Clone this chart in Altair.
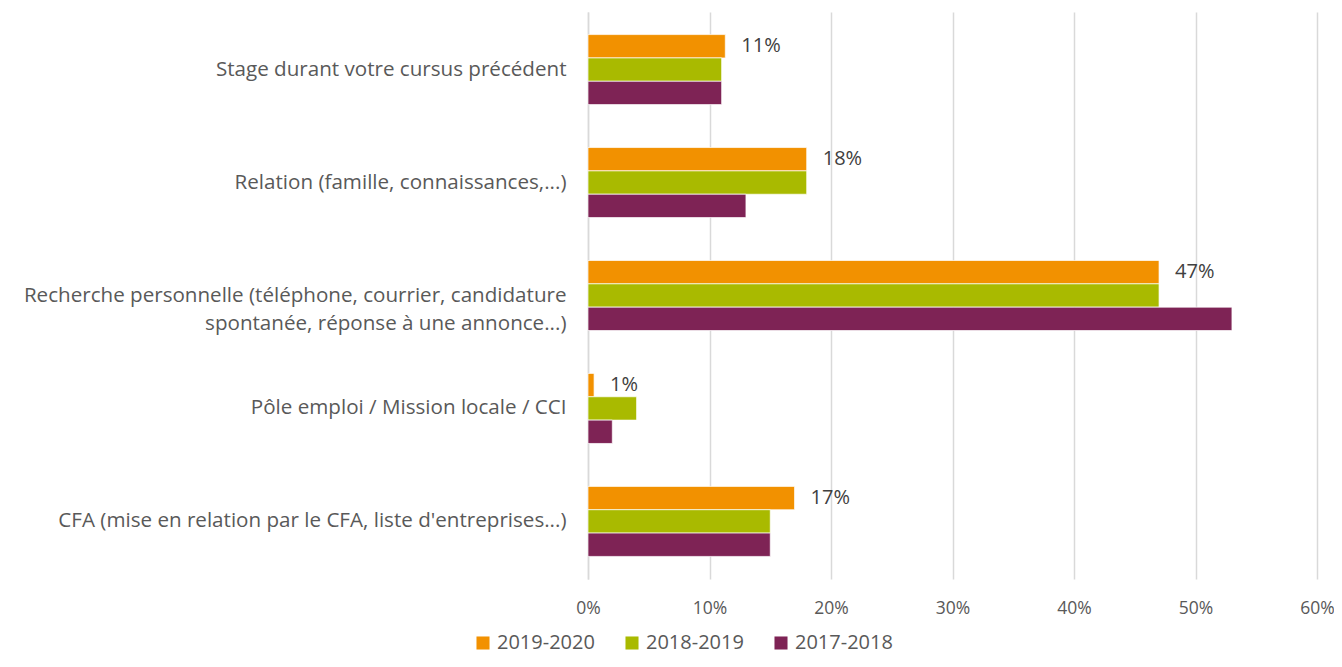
import altair as alt
import pandas as pd

categories = [
    "Stage durant votre cursus précédent",
    "Relation (famille, connaissances,...)",
    "Recherche personnelle (téléphone, courrier, candidature|spontanée, réponse à une annonce...)",
    "Pôle emploi / Mission locale / CCI",
    "CFA (mise en relation par le CFA, liste d'entreprises...)",
]
years = ["2019-2020", "2018-2019", "2017-2018"]
colors = ["#F29100", "#A9BA00", "#7E2355"]
v_2019_2020 = [0.113, 0.18, 0.47, 0.005, 0.17]
v_2018_2019 = [0.11, 0.18, 0.47, 0.04, 0.15]
v_2017_2018 = [0.11, 0.13, 0.53, 0.02, 0.15]
labels_2019_2020 = ["11%", "18%", "47%", "1%", "17%"]

rows = []
for i, c in enumerate(categories):
    for y, vals in zip(years, [v_2019_2020, v_2018_2019, v_2017_2018]):
        rows.append({"cat": c, "year": y, "value": vals[i]})
df = pd.DataFrame(rows)
lab = pd.DataFrame({"cat": categories, "year": years[0], "value": v_2019_2020, "label": labels_2019_2020})

FONT = "Open Sans"
TXT = "#595959"

y_enc = alt.Y("cat:N", sort=categories, title=None,
              scale=alt.Scale(paddingInner=0.38, paddingOuter=0.2),
              axis=alt.Axis(labelExpr="split(datum.label, '|')", labelFontSize=20.6, labelFont=FONT,
                            labelColor=TXT, labelPadding=22, ticks=False, domain=True,
                            domainColor="#d9d9d9", domainWidth=1.5, labelLimit=600, labelLineHeight=28))
x_enc = alt.X("value:Q", title=None,
              scale=alt.Scale(domain=[0, 0.6], nice=False),
              axis=alt.Axis(format=".0%", values=[0, 0.1, 0.2, 0.3, 0.4, 0.5, 0.6], grid=True,
                            gridColor="#d9d9d9", gridWidth=1.5, domain=False, ticks=False,
                            labelFlush=False, labelBound=False,
                            labelFontSize=17.5, labelFont=FONT, labelColor=TXT, labelPadding=20))

bars = alt.Chart(df).mark_bar(stroke="white", strokeWidth=0.7).encode(
    y=y_enc,
    x=x_enc,
    yOffset=alt.YOffset("year:N", sort=years),
    color=alt.Color("year:N", sort=years,
                    scale=alt.Scale(domain=years, range=colors),
                    legend=alt.Legend(title=None, orient="none", direction="horizontal",
                                      legendX=-115, legendY=621, symbolType="square",
                                      symbolSize=170, symbolStrokeWidth=0, labelFontSize=20,
                                      labelFont=FONT, labelColor=TXT, columnPadding=27,
                                      symbolOffset=0, labelOffset=4)),
)

text = alt.Chart(lab).mark_text(align="left", dx=16, font=FONT, fontSize=20, color="#404040").encode(
    y=alt.Y("cat:N", sort=categories),
    x=alt.X("value:Q"),
    yOffset=alt.YOffset("year:N", sort=years, scale=alt.Scale(domain=years)),
    text="label:N",
)

chart = (bars + text).properties(
    width=729, height=567,
    autosize=alt.AutoSizeParams(type="none"),
    padding={"left": 580, "top": 4, "right": 17, "bottom": 80},
).configure_view(stroke=None)

chart.save("out.html", embed_options={"renderer": "svg", "actions": False})
